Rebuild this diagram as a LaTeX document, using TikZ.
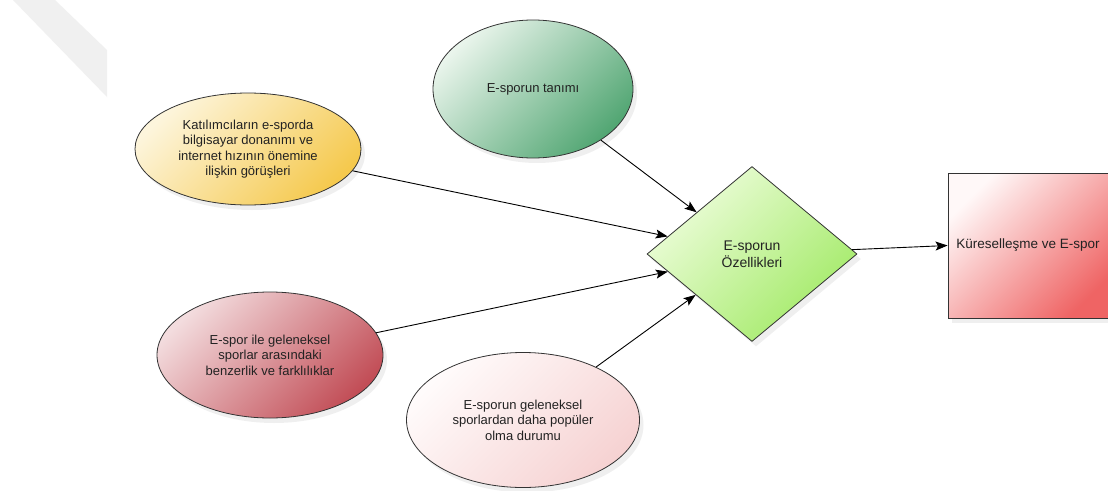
\documentclass[tikz,border=0pt]{standalone}
\usepackage{fontspec}
\setmainfont{Liberation Sans}
\usetikzlibrary{shapes.geometric,arrows.meta,shadows}
\definecolor{txt}{HTML}{222222}
\definecolor{edge}{HTML}{333333}
\definecolor{ylight}{HTML}{FDF5DC}
\definecolor{ydark}{HTML}{F5C94E}
\definecolor{glight}{HTML}{EAF5EC}
\definecolor{gdark}{HTML}{52A673}
\definecolor{rlight}{HTML}{F3DCDE}
\definecolor{rdark}{HTML}{C24E57}
\definecolor{plight}{HTML}{FFFBFB}
\definecolor{pdark}{HTML}{F6D2D2}
\definecolor{dlight}{HTML}{EEFDDC}
\definecolor{ddark}{HTML}{A2EA66}
\definecolor{qlight}{HTML}{FFF8F8}
\definecolor{qdark}{HTML}{EF6464}
\tikzset{
  blob/.style={ellipse, draw=edge, line width=0.8pt, inner sep=0pt,
    text=txt, align=center, font=\fontsize{13}{15.5}\selectfont,
    drop shadow={opacity=0.12, shadow xshift=4pt, shadow yshift=-5pt}},
  flow/.style={draw=black, line width=0.9pt,
    -{Stealth[length=12pt,width=9pt,inset=2.5pt]}},
}
\begin{document}
\begin{tikzpicture}[x=1pt,y=-1pt]
\useasboundingbox (0,0) rectangle (1108,490);
\clip (0,0) rectangle (1108,490);
\fill[white] (0,0) rectangle (1108,490);
% faint watermark band
\fill[black!6] (13,0) -- (55,0) -- (107,50) -- (107,97) -- cycle;

\node[blob, minimum width=226pt, minimum height=112pt,
  top color=ylight, bottom color=ydark, shading angle=45]
  (yel) at (248,149) {Katılımcıların e-sporda\\bilgisayar donanımı ve\\internet hızının önemine\\ilişkin görüşleri};
\node[blob, minimum width=200pt, minimum height=138pt,
  top color=glight, bottom color=gdark, shading angle=45]
  (grn) at (533,89) {E-sporun tanımı};
\node[blob, minimum width=226pt, minimum height=126pt,
  top color=rlight, bottom color=rdark, shading angle=45]
  (red) at (270,355) {E-spor ile geleneksel\\sporlar arasındaki\\benzerlik ve farklılıklar};
\node[blob, minimum width=233pt, minimum height=135pt,
  top color=plight, bottom color=pdark, shading angle=45]
  (pnk) at (523,420) {E-sporun geleneksel\\sporlardan daha popüler\\olma durumu};
\node[diamond, draw=edge, line width=0.8pt, inner sep=0pt,
  minimum width=210pt, minimum height=175pt, text=txt, align=center,
  font=\fontsize{14}{17}\selectfont,
  top color=dlight, bottom color=ddark, shading angle=45,
  drop shadow={opacity=0.12, shadow xshift=4pt, shadow yshift=-5pt}]
  (dia) at (752,254) {E-sporun\\Özellikleri};
\node[rectangle, draw=edge, line width=0.9pt, inner sep=0pt,
  minimum width=166pt, minimum height=145pt, text=txt,
  font=\fontsize{13.5}{16}\selectfont,
  top color=qlight, bottom color=qdark, shading angle=45,
  drop shadow={opacity=0.12, shadow xshift=4pt, shadow yshift=-5pt}]
  (box) at (1031,245.5) {};
\node[text=txt, font=\fontsize{13.5}{16}\selectfont, inner sep=0pt]
  (boxlabel) at (1028,245) {Küreselleşme ve E-spor};

\draw[flow] (grn) -- (dia);
\draw[flow] (yel) -- (dia);
\draw[flow] (red) -- (dia);
\draw[flow] (pnk) -- (dia);
\draw[flow] (dia) -- (box.west);
\end{tikzpicture}
\end{document}
